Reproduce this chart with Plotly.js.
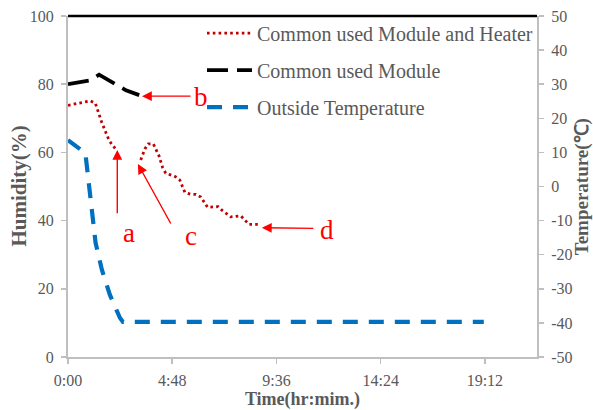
<!DOCTYPE html>
<html>
<head>
<meta charset="utf-8">
<script src="https://cdn.plot.ly/plotly-3.0.1.min.js"></script>
<style>html,body{margin:0;padding:0;background:#fff;}#chart{width:593px;height:410px;}</style>
</head>
<body>
<div id="chart"></div>
<script>
// ---- data (time in hours) ----
var heaterTime = [0, 0.5, 1.03, 1.26, 1.56, 1.90, 2.06, 2.25, 2.8, 3.35, 3.54, 3.70, 3.93, 4.19, 4.36, 4.50, 4.94, 5.15, 5.38, 5.65, 5.89, 6.12, 6.43, 6.92, 7.10, 7.50, 7.96, 8.33, 8.79];
var heaterHumidity = [73.8, 74.5, 75.1, 74.4, 68.7, 63.4, 62.1, 60.5, null, 57.8, 61.0, 62.5, 62.5, 59.0, 55.5, 53.9, 52.9, 51.9, 48.3, 47.7, 47.7, 46.9, 43.9, 44.1, 43.0, 41.1, 41.4, 38.9, 38.9];

var moduleTime = [0, 1.01, 1.43, 2.25, 2.67, 3.28];
var moduleHumidity = [80.0, 81.1, 82.8, 79.7, 78.2, 76.8];

var outsideTime = [0, 0.37, 0.80, 1.27, 1.56, 1.93, 2.39, 2.53, 19.15];
var outsideTemp = [13.6, 11.7, 9.8, -16.5, -24.4, -31.8, -38.5, -39.7, -39.7];

var xTickVals = [0, 4.8, 9.6, 14.4, 19.2];
var xTickText = ['0:00', '4:48', '9:36', '14:24', '19:12'];
var tempTickVals = [-50, -40, -30, -20, -10, 0, 10, 20, 30, 40, 50];
var tempTickText = ['-50', '-40', '-30', '-20', '-10', '0', '10', '20', '30', '40', '50'];

var seriesNames = ['Common used Module and Heater', 'Common used Module', 'Outside Temperature'];
var xTitle = 'Time(hr:mim.)';
var yTitle = 'Humidity(%)';
var y2Title = 'Temperature(℃)';

// annotation markers: letter, arrow tip (hours, humidity), arrow tail, label position
var markLetters = ['a', 'b', 'c', 'd'];
var tipX = [2.27, 3.41, 3.22, 8.93];
var tipY = [60.7, 76.5, 56.6, 37.9];
var tailX = [2.27, 5.71, 4.77, 11.37];
var tailY = [41.7, 76.5, 38.7, 37.7];
var labelX = [2.81, 6.12, 5.66, 11.92];
var labelY = [36.4, 76.2, 35.5, 37.3];

var serif = 'Liberation Serif, Times New Roman, serif';
var grey = '#595959';
var axisGrey = '#bfbfbf';

var traces = [
  {x: heaterTime, y: heaterHumidity, name: seriesNames[0], type: 'scatter', mode: 'lines', connectgaps: false,
   legendgroup: 'g1', line: {color: '#C00000', width: 2.8, dash: '2.6px,3.2px'}},
  {x: moduleTime, y: moduleHumidity, name: seriesNames[1], type: 'scatter', mode: 'lines',
   legendgroup: 'g2', line: {color: '#000000', width: 3.8, dash: '21px,9px'}},
  {x: outsideTime, y: outsideTemp, name: seriesNames[2], type: 'scatter', mode: 'lines', yaxis: 'y2',
   legendgroup: 'g3', line: {color: '#0070C0', width: 4.2, dash: '15px,11px'}}
];

var annotations = [];
for (var i = 0; i < markLetters.length; i++) {
  annotations.push({
    x: tipX[i], y: tipY[i], xref: 'x', yref: 'y',
    ax: tailX[i], ay: tailY[i], axref: 'x', ayref: 'y',
    text: '', showarrow: true, arrowhead: 2, arrowsize: 1.4, arrowwidth: 1.4,
    arrowcolor: '#FF0000', standoff: 0, startstandoff: 0
  });
  annotations.push({
    x: labelX[i], y: labelY[i], xref: 'x', yref: 'y', text: markLetters[i],
    showarrow: false, font: {family: serif, size: 27, color: '#FF0000'},
    xanchor: 'center', yanchor: 'middle'
  });
}
// vertical axis titles
annotations.push({
  x: -0.1066, y: 0.5, xref: 'paper', yref: 'paper', text: '<b>' + yTitle + '</b>', textangle: -90,
  showarrow: false, xanchor: 'center', yanchor: 'middle',
  font: {family: serif, size: 21, color: grey}
});
annotations.push({
  x: 1.0955, y: 0.5, xref: 'paper', yref: 'paper', text: '<b>' + y2Title + '</b>', textangle: -90,
  showarrow: false, xanchor: 'center', yanchor: 'middle',
  font: {family: serif, size: 19, color: grey}
});

var layout = {
  width: 593, height: 410,
  margin: {l: 68, r: 56, t: 16, b: 53, pad: 0},
  paper_bgcolor: '#ffffff', plot_bgcolor: '#ffffff',
  showlegend: true,
  legend: {
    x: 0.2857, y: 1.007, xanchor: 'left', yanchor: 'top',
    font: {family: serif, size: 20, color: grey},
    bgcolor: 'rgba(0,0,0,0)', borderwidth: 0,
    traceorder: 'grouped', tracegroupgap: 8, itemwidth: 45
  },
  xaxis: {
    range: [0, 21.6], tickmode: 'array', tickvals: xTickVals, ticktext: xTickText,
    showgrid: false, zeroline: false, showline: true, linecolor: axisGrey, linewidth: 2,
    ticks: 'outside', ticklen: 5, tickcolor: axisGrey, tickwidth: 1.5,
    tickfont: {family: serif, size: 16, color: grey}, ticklabelstandoff: 3,
    title: {text: xTitle, font: {family: serif, size: 18, color: grey, weight: 'bold'}, standoff: 9},
    automargin: false
  },
  yaxis: {
    range: [0, 100], dtick: 20, tick0: 0,
    showgrid: false, zeroline: false, showline: true, linecolor: axisGrey, linewidth: 2,
    ticks: 'outside', ticklen: 5, tickcolor: axisGrey, tickwidth: 1.5,
    tickfont: {family: serif, size: 16, color: grey}, ticklabelstandoff: 4,
    automargin: false
  },
  yaxis2: {
    range: [-50, 50], tickmode: 'array', tickvals: tempTickVals, ticktext: tempTickText,
    overlaying: 'y', side: 'right',
    showgrid: false, zeroline: false, showline: true, linecolor: axisGrey, linewidth: 2,
    ticks: 'outside', ticklen: 5, tickcolor: axisGrey, tickwidth: 1.5,
    tickfont: {family: serif, size: 16, color: grey}, ticklabelstandoff: 4,
    automargin: false
  },
  shapes: [
    {type: 'line', xref: 'paper', yref: 'paper', x0: 0, x1: 1, y0: 1, y1: 1,
     line: {color: '#000000', width: 2.5}}
  ],
  annotations: annotations
};

Plotly.newPlot('chart', traces, layout, {displayModeBar: false, staticPlot: true});
</script>
</body>
</html>
